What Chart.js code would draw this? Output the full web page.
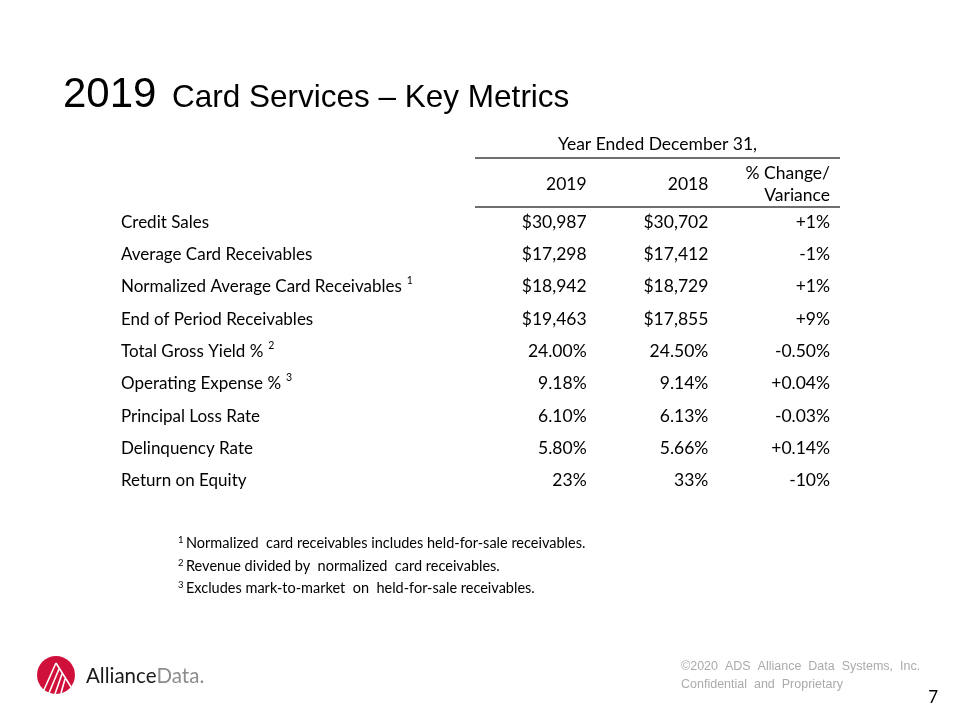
<!DOCTYPE html>
<html>
<head>
<meta charset="utf-8">
<script src="https://cdn.jsdelivr.net/npm/chart.js@4.4.1/dist/chart.umd.min.js"></script>
<style>
  html, body { margin: 0; padding: 0; background: #fff; }
  #wrap { width: 960px; height: 720px; position: relative; }
</style>
</head>
<body>
<div id="wrap"><canvas id="c" width="960" height="720"></canvas></div>
<script>
// ---- data ----
const titleYear = '2019';
const titleRest = 'Card Services \u2013 Key Metrics';
const groupHeader = 'Year Ended December 31,';
const columns = ['2019', '2018', '% Change/\nVariance'];
const metrics = [
  'Credit Sales',
  'Average Card Receivables',
  'Normalized Average Card Receivables',
  'End of Period Receivables',
  'Total Gross Yield %',
  'Operating Expense %',
  'Principal Loss Rate',
  'Delinquency Rate',
  'Return on Equity'
];
const footnoteRefs = ['', '', '1', '', '2', '3', '', '', ''];
const values2019 = [30987, 17298, 18942, 19463, 24.00, 9.18, 6.10, 5.80, 23];
const values2018 = [30702, 17412, 18729, 17855, 24.50, 9.14, 6.13, 5.66, 33];
const changes    = [1, -1, 1, 9, -0.50, 0.04, -0.03, 0.14, -10];
const valueFormats  = ['usd', 'usd', 'usd', 'usd', 'pct2', 'pct2', 'pct2', 'pct2', 'pct0'];
const changeFormats = ['pct0', 'pct0', 'pct0', 'pct0', 'pct2', 'pct2', 'pct2', 'pct2', 'pct0'];
const footnotes = [
  ['1', 'Normalized  card receivables includes held-for-sale receivables.'],
  ['2', 'Revenue divided by  normalized  card receivables.'],
  ['3', 'Excludes mark-to-market  on  held-for-sale receivables.']
];
const copyrightLines = ['\u00a92020  ADS  Alliance  Data  Systems,  Inc.', 'Confidential  and  Proprietary'];
const pageNumber = '7';

// ---- formatting ----
function fmt(v, f, signed) {
  let s;
  if (f === 'usd') s = '$' + Math.abs(v).toLocaleString('en-US');
  else if (f === 'pct2') s = Math.abs(v).toFixed(2) + '%';
  else s = Math.abs(v).toFixed(0) + '%';
  if (v < 0) s = '-' + s;
  else if (signed) s = '+' + s;
  return s;
}

const labelFont = '17px Lato';
const cellFont = '17.5px Lato';
const black = '#000000';

const columnData = [
  metrics.map((m, i) => ({ x: columns[0], y: m, t: fmt(values2019[i], valueFormats[i], false) })),
  metrics.map((m, i) => ({ x: columns[1], y: m, t: fmt(values2018[i], valueFormats[i], false) })),
  metrics.map((m, i) => ({ x: columns[2], y: m, t: fmt(changes[i], changeFormats[i], true) }))
];

const tablePlugin = {
  id: 'tablePlugin',
  afterDraw(chart) {
    const ctx = chart.ctx;
    const area = chart.chartArea;
    const xs = chart.scales.x, ys = chart.scales.y;
    const half = (xs.getPixelForValue(1) - xs.getPixelForValue(0)) / 2;
    const pad = 10;
    ctx.save();

    // title
    ctx.fillStyle = black;
    ctx.textBaseline = 'alphabetic';
    ctx.textAlign = 'left';
    ctx.font = '42px "Liberation Sans", Arial, sans-serif';
    ctx.fillText(titleYear, 63, 107);
    ctx.font = '31.5px "Liberation Sans", Arial, sans-serif';
    ctx.fillText(titleRest, 172, 107);

    // group header
    ctx.font = cellFont;
    ctx.textBaseline = 'middle';
    ctx.textAlign = 'center';
    ctx.fillText(groupHeader, (area.left + area.right) / 2, area.top - 62);

    // rules
    ctx.strokeStyle = '#404040';
    ctx.lineWidth = 1.3;
    ctx.beginPath();
    ctx.moveTo(area.left, area.top - 48); ctx.lineTo(area.right, area.top - 48);
    ctx.moveTo(area.left, area.top + 1); ctx.lineTo(area.right, area.top + 1);
    ctx.stroke();

    // column headers
    ctx.textAlign = 'right';
    columns.forEach((c, i) => {
      const lines = c.split('\n');
      const xr = xs.getPixelForValue(i) + half - pad;
      lines.forEach((ln, k) => {
        ctx.fillText(ln, xr, area.top - 22 + (k - (lines.length - 1) / 2) * 22);
      });
    });

    // cells
    chart.data.datasets.forEach((ds, di) => {
      const meta = chart.getDatasetMeta(di);
      meta.data.forEach((el, j) => {
        ctx.fillText(ds.data[j].t, el.x + half - pad, el.y);
      });
    });

    // superscripts on row labels
    ctx.textAlign = 'left';
    metrics.forEach((m, i) => {
      if (!footnoteRefs[i]) return;
      ctx.font = labelFont;
      const w = ctx.measureText(m).width;
      ctx.font = '10.5px Lato';
      ctx.fillText(footnoteRefs[i], ys.left + w + 5, ys.getPixelForValue(i) - 6);
    });

    // footnotes
    ctx.textBaseline = 'alphabetic';
    footnotes.forEach((f, k) => {
      const by = 548 + k * 22.5;
      ctx.font = '9.5px Lato';
      ctx.fillText(f[0], 178, by - 5);
      ctx.font = '14.5px Lato';
      ctx.fillText(f[1], 186, by);
    });

    // copyright
    ctx.fillStyle = '#ababab';
    ctx.font = '12.5px "Liberation Sans", Arial, sans-serif';
    copyrightLines.forEach((ln, k) => ctx.fillText(ln, 681, 670 + k * 18));

    // page number
    ctx.fillStyle = black;
    ctx.font = '17px Lato';
    ctx.textAlign = 'right';
    ctx.fillText(pageNumber, 938, 703);

    // logo
    const cx = 56, cy = 675, r = 19;
    ctx.fillStyle = '#d0103a';
    ctx.beginPath(); ctx.arc(cx, cy, r, 0, Math.PI * 2); ctx.fill();
    ctx.strokeStyle = '#ffffff';
    ctx.lineWidth = 1.6;
    ctx.beginPath();
    ctx.moveTo(cx, cy - 12); ctx.lineTo(cx - 13, cy + 17);
    ctx.moveTo(cx, cy - 12); ctx.lineTo(cx + 15, cy + 12);
    ctx.moveTo(cx + 3, cy - 6); ctx.lineTo(cx - 7, cy + 18);
    ctx.moveTo(cx + 6, cy - 1); ctx.lineTo(cx - 1, cy + 19);
    ctx.moveTo(cx + 9, cy + 4); ctx.lineTo(cx + 5, cy + 18);
    ctx.stroke();
    ctx.textAlign = 'left';
    ctx.font = '20.5px Lato';
    ctx.fillStyle = '#1a1a1a';
    ctx.fillText('Alliance', 86, 683);
    const aw = ctx.measureText('Alliance').width;
    ctx.fillStyle = '#8c8c8c';
    ctx.fillText('Data.', 86 + aw, 683);

    ctx.restore();
  }
};

new Chart(document.getElementById('c'), {
  type: 'scatter',
  data: {
    datasets: columnData.map((d, i) => ({
      label: columns[i],
      data: d,
      pointRadius: 0,
      pointHoverRadius: 0,
      showLine: false
    }))
  },
  options: {
    responsive: false,
    animation: false,
    events: [],
    layout: { padding: { left: 121, right: 120, top: 206, bottom: 223 } },
    plugins: { legend: { display: false }, tooltip: { enabled: false }, title: { display: false } },
    scales: {
      x: { type: 'category', labels: columns, offset: true, display: false },
      y: {
        type: 'category',
        labels: metrics,
        offset: true,
        position: 'left',
        grid: { display: false },
        border: { display: false },
        ticks: { autoSkip: false, crossAlign: 'far', color: black, font: { family: 'Lato', size: 17 }, padding: 0 },
        afterFit(scale) { scale.width = 354; }
      }
    }
  },
  plugins: [tablePlugin]
});
</script>
</body>
</html>
